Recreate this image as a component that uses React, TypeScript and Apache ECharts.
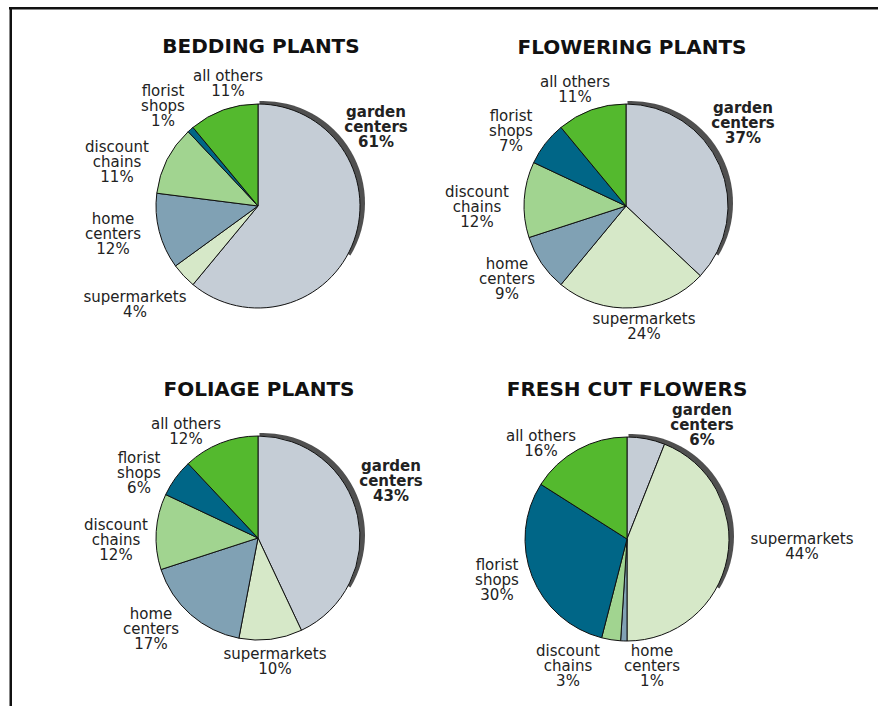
import { useEffect, useRef } from "react";
import * as echarts from "echarts";

// Retail channels, in clockwise order from 12 o'clock
const CHANNELS = [
  "garden centers",
  "supermarkets",
  "home centers",
  "discount chains",
  "florist shops",
  "all others",
];
const CHANNEL_LINES = [
  "garden\ncenters",
  "supermarkets",
  "home\ncenters",
  "discount\nchains",
  "florist\nshops",
  "all others",
];
const CHANNEL_COLORS = ["#c5cdd6", "#d6e8c8", "#80a1b4", "#a1d490", "#006687", "#54b92e"];

const PLANT_GROUPS = ["BEDDING PLANTS", "FLOWERING PLANTS", "FOLIAGE PLANTS", "FRESH CUT FLOWERS"];

// Share of sales (%) by channel
const BEDDING_SHARE = [61, 4, 12, 11, 1, 11];
const FLOWERING_SHARE = [37, 24, 9, 12, 7, 11];
const FOLIAGE_SHARE = [43, 10, 17, 12, 6, 12];
const FRESH_CUT_SHARE = [6, 44, 1, 3, 30, 16];

const SHARES = [BEDDING_SHARE, FLOWERING_SHARE, FOLIAGE_SHARE, FRESH_CUT_SHARE];

// Panel layout: pie centre, title centre and label offsets from the pie centre
const RADIUS = 102;
const PANELS = [
  {
    cx: 258, cy: 206, tx: 261, ty: 46,
    labels: [[118, -79], [-123, 98], [-145, 28], [-141, -44], [-95, -100], [-30, -123]],
  },
  {
    cx: 626, cy: 206, tx: 632, ty: 47,
    labels: [[117, -83], [18, 120], [-119, 73], [-149, 1], [-115, -75], [-51, -117]],
  },
  {
    cx: 258, cy: 538, tx: 259, ty: 389,
    labels: [[133, -57], [17, 123], [-107, 91], [-142, 2], [-119, -65], [-72, -107]],
  },
  {
    cx: 627, cy: 539, tx: 627, ty: 389,
    labels: [[75, -114], [175, 7], [25, 127], [-59, 127], [-130, 41], [-86, -96]],
  },
];

// Drop shadow behind the upper-right rim of each pie (an offset copy of the disc)
const SHADOW_OFFSET = [5, -3];
const SHADOW_START = 92;
const SHADOW_SWEEP = 123;

const FONT = "'DejaVu Sans', Verdana, sans-serif";

export default function App() {
  const ref = useRef<HTMLDivElement>(null);

  useEffect(() => {
    document.body.style.margin = "0";
    if (!ref.current) return;
    const chart = echarts.init(ref.current, undefined, { renderer: "svg" });

    const series: any[] = [];
    PANELS.forEach((p, k) => {
      series.push({
        type: "pie",
        silent: true,
        z: 1,
        center: [p.cx + SHADOW_OFFSET[0], p.cy + SHADOW_OFFSET[1]],
        radius: RADIUS,
        startAngle: SHADOW_START,
        clockwise: true,
        label: { show: false },
        labelLine: { show: false },
        data: [
          { value: SHADOW_SWEEP, itemStyle: { color: "#505050" } },
          { value: 360 - SHADOW_SWEEP, itemStyle: { color: "rgba(0,0,0,0)" } },
        ],
      });
      series.push({
        type: "pie",
        name: PLANT_GROUPS[k],
        z: 2,
        center: [p.cx, p.cy],
        radius: RADIUS,
        startAngle: 90,
        clockwise: true,
        avoidLabelOverlap: false,
        itemStyle: { borderColor: "#111111", borderWidth: 1 },
        emphasis: { disabled: true },
        labelLine: { show: false },
        label: {
          show: true,
          position: "outside",
          fontFamily: FONT,
          fontSize: 15,
          lineHeight: 15,
          color: "#222222",
          formatter: (q: any) => `${CHANNEL_LINES[q.dataIndex]}\n${q.value}%`,
        },
        labelLayout: (q: any) => {
          const off = p.labels[q.dataIndex];
          return {
            x: p.cx + off[0],
            y: p.cy + off[1],
            align: "center",
            verticalAlign: "middle",
          };
        },
        data: SHARES[k].map((v, i) => ({
          name: CHANNELS[i],
          value: v,
          itemStyle: { color: CHANNEL_COLORS[i] },
          label: { fontWeight: i === 0 ? "bold" : "normal" },
        })),
      });
    });

    chart.setOption({
      animation: false,
      backgroundColor: "#ffffff",
      title: PANELS.map((p, k) => ({
        text: PLANT_GROUPS[k],
        left: p.tx,
        top: p.ty,
        padding: 0,
        textAlign: "center",
        textVerticalAlign: "middle",
        textStyle: { fontFamily: FONT, fontSize: 20, fontWeight: "bold", color: "#111111" },
      })),
      graphic: [
        { type: "rect", shape: { x: 9, y: 7, width: 869, height: 2.5 }, style: { fill: "#111111" } },
        { type: "rect", shape: { x: 9.5, y: 7, width: 2.5, height: 699 }, style: { fill: "#111111" } },
      ],
      series,
    });

    return () => chart.dispose();
  }, []);

  return <div ref={ref} style={{ width: 878, height: 706 }} />;
}
